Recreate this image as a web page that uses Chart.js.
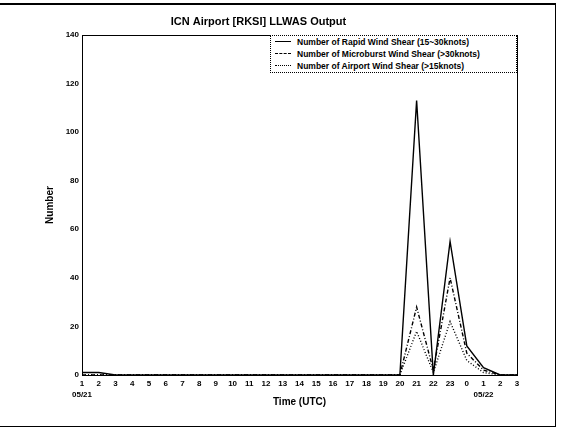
<!DOCTYPE html>
<html>
<head>
<meta charset="utf-8">
<script src="https://cdn.jsdelivr.net/npm/chart.js@4"></script>
<style>
  html, body { margin: 0; padding: 0; background: #fff; }
  #wrap { position: relative; width: 570px; height: 427px; }
  #frame { position: absolute; left: 0; top: 3px; width: 555px; height: 421px;
           border-top: 2px solid #000; border-right: 1px solid #000; border-bottom: 1px solid #000; pointer-events: none; }
  #legend { position: absolute; left: 270px; top: 35px; width: 245px; height: 36px;
            border: 1px dotted #000; background: #fff; font: bold 8.5px "Liberation Sans", Arial, sans-serif; color: #000; }
  #legend div { height: 11px; line-height: 11px; margin-top: 1px; white-space: nowrap; }
  #legend span.s { display: inline-block; width: 16px; margin: 0 6px 2px 4px; vertical-align: middle; border-top: 1px solid #000; }
</style>
</head>
<body>
<div id="wrap">
  <canvas id="c" width="570" height="427"></canvas>
  <div id="frame"></div>
  <div id="legend"></div>
</div>
<script>
// ========== DATA ==========
const hourLabels = ['1','2','3','4','5','6','7','8','9','10','11','12','13','14','15','16','17','18','19','20','21','22','23','0','1','2','3'];
const dateLabels = { 0: '05/21', 24: '05/22' };

const rapidShear =     [1,1,0,0,0,0,0,0,0,0,0,0,0,0,0,0,0,0,0,0,113,0,55,12,3,0,0];
const abnormalShear =  [0,0,0,0,0,0,0,0,0,0,0,0,0,0,0,0,0,0,0,0,28,2,40,9,2,0,0];
const airportShear =   [0,0,0,0,0,0,0,0,0,0,0,0,0,0,0,0,0,0,0,0,18,1,22,6,1,0,0];

const seriesNames = [
  'Number of Rapid Wind Shear (15~30knots)',
  'Number of Microburst Wind Shear (>30knots)',
  'Number of Airport Wind Shear (>15knots)'
];
const seriesDash = [[], [4, 2, 1, 2], [1, 2]];

// ========== LABELS ==========
const labels = hourLabels.map((h, i) => dateLabels[i] ? [h, dateLabels[i]] : h);

// ========== FRAME PLUGIN ==========
const frameBox = {
  id: 'frameBox',
  afterDraw(chart) {
    const { ctx, chartArea: a } = chart;
    ctx.save();
    ctx.strokeStyle = '#000';
    ctx.lineWidth = 1;
    ctx.strokeRect(a.left + 0.5, a.top + 0.5, a.right - a.left, a.bottom - a.top);
    ctx.restore();
  }
};

const tickFont = { family: '"Liberation Sans", Arial, sans-serif', size: 8, weight: 'bold', lineHeight: 1.3 };

new Chart(document.getElementById('c'), {
  type: 'line',
  data: {
    labels: labels,
    datasets: [rapidShear, abnormalShear, airportShear].map((d, i) => ({
      label: seriesNames[i],
      data: d,
      borderColor: '#000',
      borderWidth: 1.4,
      borderDash: seriesDash[i],
      pointRadius: 0,
      tension: 0,
      fill: false
    }))
  },
  options: {
    responsive: false,
    animation: false,
    layout: { padding: { top: 10, left: 0, right: 53, bottom: 0 } },
    plugins: {
      legend: { display: false },
      tooltip: { enabled: false },
      title: {
        display: true,
        text: 'ICN Airport [RKSI] LLWAS Output',
        color: '#000',
        font: { family: '"Liberation Sans", Arial, sans-serif', size: 11, weight: 'bold', lineHeight: 1.2 },
        padding: { top: 5.4, bottom: 6.4 }
      }
    },
    scales: {
      x: {
        grid: { display: false, drawTicks: false },
        border: { display: false },
        ticks: { color: '#000', font: tickFont, autoSkip: false, maxRotation: 0, padding: 4 },
        title: {
          display: true, text: 'Time (UTC)', color: '#000',
          font: { family: '"Liberation Sans", Arial, sans-serif', size: 10, weight: 'bold', lineHeight: 1.2 },
          padding: { top: 0, bottom: 19 }
        },
        afterFit(scale) { scale.height = 52; }
      },
      y: {
        min: 0, max: 140,
        grid: { display: false, drawTicks: false },
        border: { display: false },
        ticks: { stepSize: 20, color: '#000', font: tickFont, padding: 3 },
        title: {
          display: true, text: 'Number', color: '#000',
          font: { family: '"Liberation Sans", Arial, sans-serif', size: 10, weight: 'bold', lineHeight: 1.2 },
          padding: { top: 44, bottom: 0 }
        },
        afterFit(scale) { scale.width = 82; }
      }
    }
  },
  plugins: [frameBox]
});

// ========== HTML LEGEND ==========
const legendEl = document.getElementById('legend');
seriesNames.forEach((name, i) => {
  const row = document.createElement('div');
  const sample = document.createElement('span');
  sample.className = 's';
  if (i === 1) sample.style.borderTopStyle = 'dashed';
  if (i === 2) sample.style.borderTopStyle = 'dotted';
  row.appendChild(sample);
  row.appendChild(document.createTextNode(name));
  legendEl.appendChild(row);
});
</script>
</body>
</html>
